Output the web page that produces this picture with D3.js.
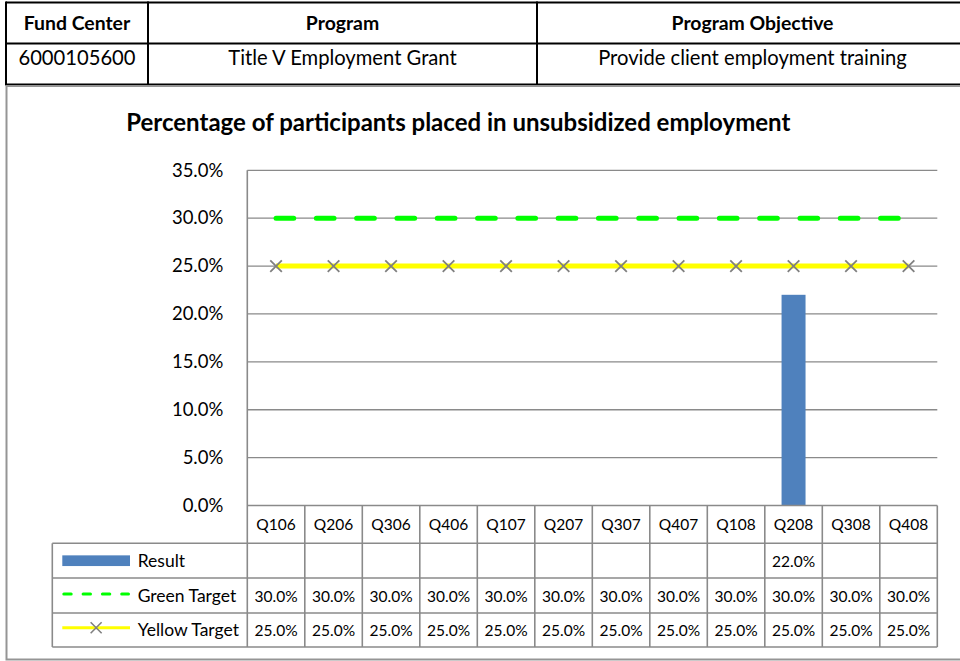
<!DOCTYPE html>
<html>
<head>
<meta charset="utf-8">
<script src="https://cdn.jsdelivr.net/npm/d3@7"></script>
<style>
  html, body { margin: 0; padding: 0; background: #fff; }
  svg { display: block; font-family: Lato, "Open Sans", sans-serif; }
</style>
</head>
<body>
<svg id="chart" width="960" height="661"></svg>
<script>
// ---- Data ----
const headerLabels = ["Fund Center", "Program", "Program Objective"];
const headerValues = ["6000105600", "Title V Employment Grant", "Provide client employment training"];

const quarters = ["Q106", "Q206", "Q306", "Q406", "Q107", "Q207", "Q307", "Q407", "Q108", "Q208", "Q308", "Q408"];
const resultValues = [null, null, null, null, null, null, null, null, null, 0.22, null, null];
const greenTarget = [0.30, 0.30, 0.30, 0.30, 0.30, 0.30, 0.30, 0.30, 0.30, 0.30, 0.30, 0.30];
const yellowTarget = [0.25, 0.25, 0.25, 0.25, 0.25, 0.25, 0.25, 0.25, 0.25, 0.25, 0.25, 0.25];
const yTicks = [0, 0.05, 0.10, 0.15, 0.20, 0.25, 0.30, 0.35];
const seriesNames = ["Result", "Green Target", "Yellow Target"];

const chartTitle = "Percentage of participants placed in unsubsidized employment";

// ---- Layout ----
const svg = d3.select("#chart");
const plot = { left: 247.3, right: 937.3, top: 170.3, bottom: 505.5 };
const tableRows = [505.5, 543.3, 578, 613, 647];   // horizontal rules of the data table
const legendLeft = 52.3;
const gridColor = "#8a8a8a";
const pct = d3.format(".1%");

const x = d3.scaleBand().domain(quarters).range([plot.left, plot.right]).padding(0);
const xc = q => x(q) + x.bandwidth() / 2;
const y = d3.scaleLinear().domain([0, 0.35]).range([plot.bottom, plot.top]);

// ---- Header table ----
const head = svg.append("g");
const colEdges = [6, 148, 537, 968];
head.selectAll("line.h").data([2.5, 43.5, 84.5]).join("line")
  .attr("x1", 6).attr("x2", 968).attr("y1", d => d).attr("y2", d => d)
  .attr("stroke", "#000").attr("stroke-width", 2);
head.selectAll("line.v").data(colEdges.slice(0, 3)).join("line")
  .attr("x1", d => d).attr("x2", d => d).attr("y1", 1.5).attr("y2", 85.5)
  .attr("stroke", "#000").attr("stroke-width", 2);
head.selectAll("text.lab").data(headerLabels).join("text")
  .attr("x", (d, i) => (colEdges[i] + colEdges[i + 1]) / 2).attr("y", 30)
  .attr("text-anchor", "middle").attr("font-weight", "bold").attr("font-size", 19.4)
  .attr("fill", "#000").text(d => d);
head.selectAll("text.val").data(headerValues).join("text")
  .attr("x", (d, i) => (colEdges[i] + colEdges[i + 1]) / 2).attr("y", 65)
  .attr("text-anchor", "middle").attr("font-size", 20.2)
  .attr("fill", "#000").text(d => d);

// ---- Chart frame ----
svg.append("rect")
  .attr("x", 6.5).attr("y", 86).attr("width", 970).attr("height", 573.5)
  .attr("fill", "none").attr("stroke", "#959595").attr("stroke-width", 2);

svg.append("text")
  .attr("x", 458.3).attr("y", 131).attr("text-anchor", "middle")
  .attr("font-weight", "bold").attr("font-size", 24).attr("fill", "#000")
  .text(chartTitle);

// ---- Gridlines ----
svg.append("g").selectAll("line").data(yTicks.filter(t => t > 0)).join("line")
  .attr("x1", plot.left).attr("x2", plot.right)
  .attr("y1", d => y(d)).attr("y2", d => y(d))
  .attr("stroke", gridColor).attr("stroke-width", 1.3);

// ---- Y axis labels ----
const yAxis = svg.append("g")
  .attr("transform", `translate(${plot.left},0)`)
  .call(d3.axisLeft(y).tickValues(yTicks).tickFormat(pct).tickSize(0).tickPadding(24));
yAxis.select(".domain").remove();
yAxis.selectAll("text")
  .attr("font-family", "Lato, sans-serif").attr("font-size", 18.5).attr("fill", "#000")
  .attr("dy", "0.31em");

// ---- Result bars ----
const barW = x.bandwidth() * 0.417;
svg.append("g").selectAll("rect")
  .data(quarters.map((q, i) => ({ q, v: resultValues[i] })).filter(d => d.v != null))
  .join("rect")
  .attr("x", d => xc(d.q) - barW / 2).attr("width", barW)
  .attr("y", d => y(d.v)).attr("height", d => y(0) - y(d.v))
  .attr("fill", "#4f81bd");

// ---- Green target (dashed) ----
const line = d3.line().x(d => xc(d.q)).y(d => y(d.v));
svg.append("path")
  .datum(quarters.map((q, i) => ({ q, v: greenTarget[i] })))
  .attr("d", line).attr("fill", "none")
  .attr("stroke", "#00ff00").attr("stroke-width", 5)
  .attr("stroke-linecap", "round").attr("stroke-dasharray", "17.7 22.6");

// ---- Yellow target with x markers ----
const yellowData = quarters.map((q, i) => ({ q, v: yellowTarget[i] }));
svg.append("path")
  .datum(yellowData)
  .attr("d", line).attr("fill", "none")
  .attr("stroke", "#ffff00").attr("stroke-width", 5);

function xMark(g, cx, cy, r, w) {
  g.append("path")
    .attr("d", `M${cx - r},${cy - r}L${cx + r},${cy + r}M${cx - r},${cy + r}L${cx + r},${cy - r}`)
    .attr("stroke", "#808080").attr("stroke-width", w).attr("fill", "none");
}
const markers = svg.append("g");
yellowData.forEach(d => xMark(markers, xc(d.q), y(d.v), 5.8, 1.8));

// ---- Data table ----
const tbl = svg.append("g");
// horizontal rules
tbl.selectAll("line.row").data(tableRows).join("line")
  .attr("x1", (d, i) => i === 0 ? plot.left : legendLeft).attr("x2", plot.right)
  .attr("y1", d => d).attr("y2", d => d)
  .attr("stroke", gridColor).attr("stroke-width", 1.6);
// category column rules
const colXs = quarters.map(q => x(q)).concat([plot.right]);
tbl.selectAll("line.col").data(colXs).join("line")
  .attr("x1", d => d).attr("x2", d => d)
  .attr("y1", (d, i) => i === 0 ? plot.top : tableRows[0]).attr("y2", tableRows[4])
  .attr("stroke", gridColor).attr("stroke-width", 1.6);
// legend column left edge
tbl.append("line")
  .attr("x1", legendLeft).attr("x2", legendLeft)
  .attr("y1", tableRows[1]).attr("y2", tableRows[4])
  .attr("stroke", gridColor).attr("stroke-width", 1.6);

// category labels
tbl.selectAll("text.cat").data(quarters).join("text")
  .attr("x", d => xc(d)).attr("y", (tableRows[0] + tableRows[1]) / 2 + 5.5)
  .attr("text-anchor", "middle").attr("font-size", 15.5).attr("fill", "#000")
  .text(d => d);

// value cells
const rowsData = [resultValues, greenTarget, yellowTarget];
rowsData.forEach((vals, r) => {
  const cy = (tableRows[r + 1] + tableRows[r + 2]) / 2 + 6;
  tbl.append("g").selectAll("text").data(quarters.map((q, i) => ({ q, v: vals[i] })).filter(d => d.v != null))
    .join("text")
    .attr("x", d => xc(d.q)).attr("y", cy)
    .attr("text-anchor", "middle").attr("font-size", 15.5).attr("fill", "#000")
    .text(d => pct(d.v));
  tbl.append("text")
    .attr("x", 137.7).attr("y", cy)
    .attr("font-size", 17.5).attr("fill", "#000")
    .text(seriesNames[r]);
});

// legend keys
const keyX0 = 62.3, keyX1 = 130;
const rowMid = r => (tableRows[r + 1] + tableRows[r + 2]) / 2;
tbl.append("rect")
  .attr("x", keyX0).attr("y", rowMid(0) - 5.3).attr("width", keyX1 - keyX0).attr("height", 10.7)
  .attr("fill", "#4f81bd");
tbl.append("line")
  .attr("x1", keyX0 + 1.5).attr("x2", keyX1 - 1.5).attr("y1", rowMid(1) - 1.5).attr("y2", rowMid(1) - 1.5)
  .attr("stroke", "#00ff00").attr("stroke-width", 3)
  .attr("stroke-linecap", "round").attr("stroke-dasharray", "7.4 11.9");
tbl.append("line")
  .attr("x1", keyX0).attr("x2", keyX1).attr("y1", rowMid(2) - 2.3).attr("y2", rowMid(2) - 2.3)
  .attr("stroke", "#ffff00").attr("stroke-width", 3);
xMark(tbl, (keyX0 + keyX1) / 2, rowMid(2) - 2.3, 5.5, 1.6);
</script>
</body>
</html>
